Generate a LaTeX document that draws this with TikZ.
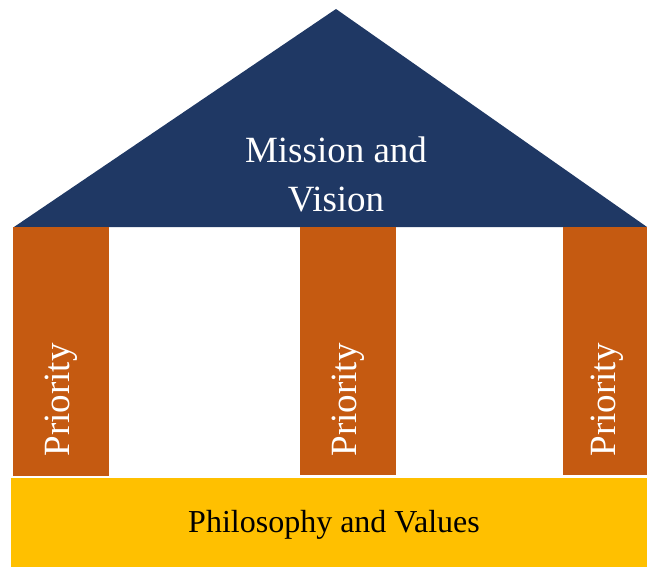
\documentclass[tikz,border=0pt]{standalone}
\usepackage{fontspec}
\setmainfont{Liberation Serif}
\definecolor{roofblue}{HTML}{1F3864}
\definecolor{pillarorange}{HTML}{C55A11}
\definecolor{basegold}{HTML}{FFC000}
\tikzset{
  roof/.style={fill=roofblue, draw=none},
  pillar/.style={fill=pillarorange, draw=none},
  base/.style={fill=basegold, draw=none},
  pillar text/.style={text=white, rotate=90, font=\fontsize{37}{44}\selectfont},
}
\begin{document}
\begin{tikzpicture}[x=1pt, y=-1pt]

\useasboundingbox (0, 0) rectangle (647, 567);

% roof
\fill[roof] (14, 227) -- (336, 9) -- (647, 227) -- cycle;
\node[text=white, align=center, font=\fontsize{37}{49}\selectfont] (mission) at (336, 174) {Mission and\\Vision};

% pillars
\fill[pillar] (13, 227) rectangle (109, 476);
\fill[pillar] (300, 227) rectangle (396, 475);
\fill[pillar] (563, 227) rectangle (647, 475);
\node[pillar text] (priority left) at (61, 400) {Priority};
\node[pillar text] (priority middle) at (348, 400) {Priority};
\node[pillar text] (priority right) at (607, 400) {Priority};

% base
\fill[base] (11, 478) rectangle (647, 567);
\node[font=\fontsize{32}{38}\selectfont] (philosophy) at (334, 525) {Philosophy and Values};
\end{tikzpicture}
\end{document}
